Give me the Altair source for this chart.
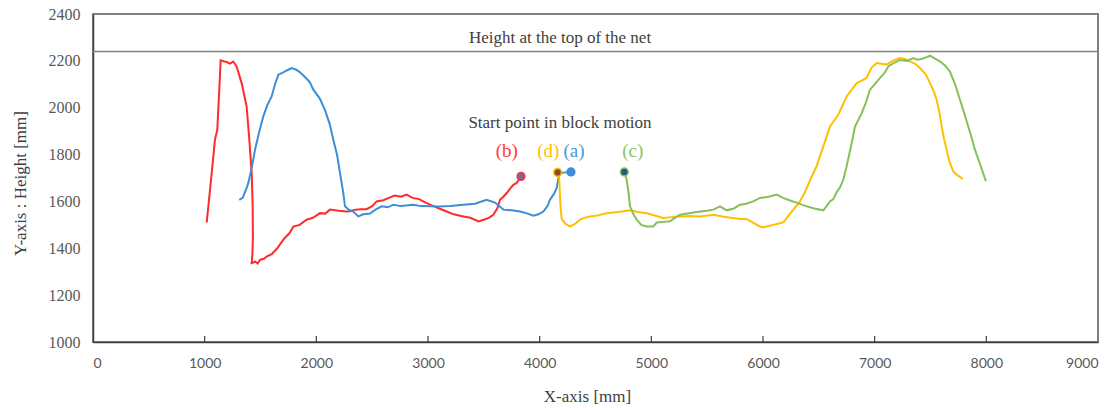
import altair as alt
import pandas as pd

# ---- data ----
b_x = [1018,1033,1063,1092,1113,1131,1143,1170,1197,1227,1256,1286,1331,1376,1400,1421,1430,1432,1428,1421,1440,1451,1475,1495,1530,1555,1600,1650,1704,1760,1794,1850,1913,1970,2033,2080,2122,2200,2271,2301,2350,2400,2450,2500,2540,2600,2650,2700,2760,2809,2860,2920,2988,3050,3100,3167,3230,3316,3380,3451,3500,3545,3585,3620,3645,3675,3705,3735,3764,3794,3833]
b_y = [1510,1579,1721,1863,1906,2077,2202,2198,2195,2188,2197,2176,2105,2005,1863,1721,1579,1450,1380,1337,1340,1344,1335,1351,1355,1365,1375,1400,1437,1465,1493,1500,1522,1530,1550,1548,1565,1560,1557,1558,1565,1567,1567,1580,1600,1605,1615,1625,1620,1629,1615,1610,1593,1580,1570,1557,1545,1536,1530,1515,1522,1530,1543,1570,1607,1620,1636,1655,1671,1679,1707]

a_x = [1310,1340,1370,1391,1420,1451,1490,1525,1560,1600,1630,1660,1700,1740,1779,1820,1854,1900,1940,1973,2030,2077,2120,2152,2185,2212,2240,2257,2290,2331,2376,2420,2481,2530,2585,2640,2689,2760,2868,2940,3018,3100,3200,3316,3420,3525,3600,3675,3750,3824,3880,3943,3990,4033,4070,4092,4125,4152,4176,4230,4280]
a_y = [1607,1615,1650,1679,1740,1821,1900,1963,2010,2048,2100,2141,2150,2160,2169,2162,2151,2130,2110,2077,2040,1991,1930,1863,1800,1721,1640,1579,1565,1557,1536,1545,1548,1565,1579,1575,1586,1580,1586,1580,1579,1578,1580,1586,1590,1607,1595,1565,1562,1557,1550,1539,1545,1557,1580,1607,1630,1657,1721,1724,1726]

d_x = [4161,4175,4182,4190,4197,4230,4272,4320,4361,4400,4451,4520,4600,4700,4809,4880,4958,5030,5107,5180,5256,5350,5436,5555,5650,5794,5853,5913,5972,6003,6050,6092,6182,6230,6272,6331,6376,6430,6480,6540,6600,6674,6749,6800,6839,6880,6928,6970,7018,7060,7107,7160,7226,7270,7316,7370,7420,7460,7495,7530,7555,7580,7600,7620,7644,7670,7704,7740,7788]
d_y = [1724,1700,1620,1560,1526,1505,1493,1505,1522,1530,1536,1540,1550,1555,1562,1555,1550,1540,1529,1533,1536,1538,1536,1543,1535,1525,1525,1508,1493,1489,1495,1500,1511,1540,1565,1600,1640,1700,1750,1835,1920,1970,2048,2080,2105,2115,2127,2170,2191,2188,2184,2200,2212,2208,2198,2185,2162,2140,2105,2070,2034,1980,1920,1870,1821,1770,1728,1712,1696]

c_x = [4758,4765,4779,4795,4809,4840,4869,4910,4958,5018,5048,5100,5167,5210,5256,5340,5436,5500,5555,5615,5675,5740,5794,5850,5913,5973,6050,6122,6180,6242,6300,6391,6460,6540,6570,6600,6630,6660,6690,6719,6749,6790,6824,6884,6920,6958,7000,7048,7090,7122,7170,7226,7290,7346,7380,7420,7460,7495,7540,7585,7630,7674,7720,7764,7800,7838,7870,7898,7950,7996]
c_y = [1726,1715,1693,1640,1579,1545,1522,1500,1493,1493,1510,1512,1515,1530,1543,1550,1557,1560,1565,1579,1562,1570,1586,1590,1600,1615,1620,1629,1615,1604,1595,1579,1570,1562,1580,1600,1610,1640,1660,1693,1750,1840,1920,1977,2020,2077,2100,2127,2150,2176,2190,2204,2200,2212,2205,2208,2215,2222,2210,2198,2180,2155,2100,2034,1980,1920,1870,1821,1750,1686]

series_names = ["(b)", "(a)", "(d)", "(c)"]
line_colors = ["#FF2A2A", "#3C8ED8", "#FFC000", "#86C157"]

start_x = [3833, 4280, 4161, 4758]
start_y = [1707, 1726, 1724, 1726]
start_fill = ["#7A68A6", "#3C8ED8", "#8B4A24", "#1F5C8A"]
start_stroke = ["#FF3030", "#3C8ED8", "#FFC000", "#86C157"]

label_x = [3705, 4307, 4077, 4833]
label_y = [1814, 1814, 1814, 1814]
label_colors = ["#FF3B3B", "#4A9AD8", "#FFC000", "#8DC55C"]

net_height = 2240
notes = ["Height at the top of the net", "Start point in block motion"]
notes_x = [4182, 4182]
notes_y = [2298, 1935]

x_ticks = [0, 1000, 2000, 3000, 4000, 5000, 6000, 7000, 8000, 9000]
y_ticks = [1000, 1200, 1400, 1600, 1800, 2000, 2200, 2400]
inner_ticks = [1000, 2000, 3000, 4000, 5000, 6000, 7000, 8000]

# ---- tables ----
rows = []
for name, xs, ys in zip(series_names, [b_x, a_x, d_x, c_x], [b_y, a_y, d_y, c_y]):
    for i, (xv, yv) in enumerate(zip(xs, ys)):
        rows.append({"series": name, "i": i, "x": xv, "y": yv})
lines_df = pd.DataFrame(rows)

pts_df = pd.DataFrame({"x": start_x, "y": start_y, "fill": start_fill, "stroke": start_stroke})
lab_df = pd.DataFrame({"x": label_x, "y": label_y, "text": series_names, "color": label_colors})
notes_df = pd.DataFrame({"x": notes_x, "y": notes_y, "text": notes})
ticks_df = pd.DataFrame({"x": inner_ticks})

W, H = 1005, 328
xscale = alt.Scale(domain=[0, 9000], nice=False, zero=False)
yscale = alt.Scale(domain=[1000, 2400], nice=False, zero=False)

xaxis = alt.Axis(values=x_ticks, format="d", title="X-axis [mm]", titleX=494, titleY=59)
yaxis = alt.Axis(values=y_ticks, format="d", title="Y-axis : Height [mm]", titleX=-68, titleY=169)

net = alt.Chart(pd.DataFrame({"y": [net_height]})).mark_rule(color="#7F7F7F", strokeWidth=1.5).encode(
    y=alt.Y("y:Q", scale=yscale, axis=yaxis))

lines = alt.Chart(lines_df).mark_line(strokeWidth=2).encode(
    x=alt.X("x:Q", scale=xscale, axis=xaxis),
    y=alt.Y("y:Q", scale=yscale, axis=yaxis),
    color=alt.Color("series:N", scale=alt.Scale(domain=series_names, range=line_colors), legend=None),
    order="i:Q",
    detail="series:N")

pts = alt.Chart(pts_df).mark_point(filled=True, size=60, strokeWidth=1.5, opacity=1).encode(
    x=alt.X("x:Q", scale=xscale),
    y=alt.Y("y:Q", scale=yscale),
    fill=alt.Fill("fill:N", scale=None),
    stroke=alt.Stroke("stroke:N", scale=None))

labs = alt.Chart(lab_df).mark_text(font="Liberation Serif", fontSize=19, baseline="middle", align="center").encode(
    x=alt.X("x:Q", scale=xscale),
    y=alt.Y("y:Q", scale=yscale),
    text="text:N",
    color=alt.Color("color:N", scale=None))

note_txt = alt.Chart(notes_df).mark_text(font="Liberation Serif", fontSize=17, baseline="middle",
                                          align="center", color="#404040").encode(
    x=alt.X("x:Q", scale=xscale),
    y=alt.Y("y:Q", scale=yscale),
    text="text:N")

tick_marks = alt.Chart(ticks_df).mark_rule(color="#404040", strokeWidth=1.2).encode(
    x=alt.X("x:Q", scale=xscale),
    y=alt.value(H - 6), y2=alt.value(H))

chart = alt.layer(net, lines, tick_marks, pts, labs, note_txt).properties(
    width=W, height=H,
    padding={"left": 93, "top": 14, "right": 19, "bottom": 66},
    autosize=alt.AutoSizeParams(type="none"),
    background="white",
).configure_view(
    stroke="#808080", strokeWidth=2
).configure_axis(
    grid=False, ticks=False, tickSize=0, domainColor="#404040", domainWidth=1.5,
    titleFont="Liberation Serif", titleFontSize=17, titleFontWeight="normal",
    titleColor="#404040", titleBaseline="alphabetic"
).configure_axisX(
    labelFont="Lato", labelFontSize=14, labelColor="#595959", labelPadding=14
).configure_axisY(
    labelFont="Liberation Serif", labelFontSize=16, labelColor="#595959", labelPadding=13,
    titleAngle=270
)

chart.save("out.html", embed_options={"renderer": "svg", "actions": False})
